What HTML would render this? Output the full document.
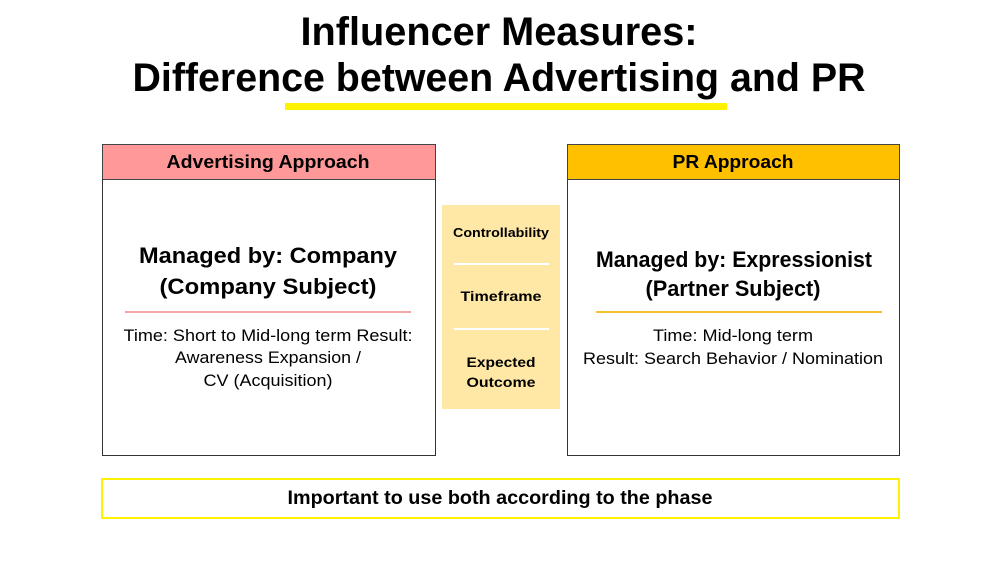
<!DOCTYPE html>
<html><head><meta charset="utf-8"><style>
html,body{margin:0;padding:0;background:#fff;}
svg{display:block;}
text{font-family:"Liberation Sans",sans-serif;fill:#000;}
.b{font-weight:bold;}
</style></head><body>
<svg width="1000" height="563" viewBox="0 0 1000 563" xmlns="http://www.w3.org/2000/svg">
<rect width="1000" height="563" fill="#fff"/>
<text class="b" x="499" y="45" font-size="40" text-anchor="middle" textLength="397" lengthAdjust="spacingAndGlyphs">Influencer Measures:</text>
<text class="b" x="499" y="91" font-size="40" text-anchor="middle" textLength="733" lengthAdjust="spacingAndGlyphs">Difference between Advertising and PR</text>
<rect x="285" y="103" width="442" height="7" fill="#FFF200"/>

<rect x="102.5" y="144.5" width="333" height="311" fill="#fff" stroke="#333" stroke-width="1"/>
<rect x="102.5" y="144.5" width="333" height="35" fill="#FF9999" stroke="#444" stroke-width="1"/>
<text class="b" x="268" y="168" font-size="18" text-anchor="middle" textLength="203" lengthAdjust="spacingAndGlyphs">Advertising Approach</text>
<text class="b" x="268" y="263" font-size="22" text-anchor="middle" textLength="258" lengthAdjust="spacingAndGlyphs">Managed by: Company</text>
<text class="b" x="268" y="294" font-size="22" text-anchor="middle" textLength="217" lengthAdjust="spacingAndGlyphs">(Company Subject)</text>
<rect x="125" y="311" width="286" height="2" fill="#F4A6A6"/>
<text x="268" y="341" font-size="17" text-anchor="middle" textLength="289" lengthAdjust="spacingAndGlyphs">Time: Short to Mid-long term Result:</text>
<text x="268" y="363" font-size="17" text-anchor="middle" textLength="186" lengthAdjust="spacingAndGlyphs">Awareness Expansion /</text>
<text x="268" y="386" font-size="17" text-anchor="middle" textLength="129" lengthAdjust="spacingAndGlyphs">CV (Acquisition)</text>

<rect x="442" y="205" width="118" height="204" fill="#FFE8A6"/>
<rect x="454" y="263" width="95" height="2" fill="#fff"/>
<rect x="454" y="328" width="95" height="2" fill="#fff"/>
<text class="b" x="501" y="237" font-size="13" text-anchor="middle" textLength="96" lengthAdjust="spacingAndGlyphs">Controllability</text>
<text class="b" x="501" y="301" font-size="14" text-anchor="middle" textLength="81" lengthAdjust="spacingAndGlyphs">Timeframe</text>
<text class="b" x="501" y="367" font-size="14" text-anchor="middle" textLength="69" lengthAdjust="spacingAndGlyphs">Expected</text>
<text class="b" x="501" y="387" font-size="14" text-anchor="middle" textLength="69" lengthAdjust="spacingAndGlyphs">Outcome</text>

<rect x="567.5" y="144.5" width="332" height="311" fill="#fff" stroke="#333" stroke-width="1"/>
<rect x="567.5" y="144.5" width="332" height="35" fill="#FFC000" stroke="#444" stroke-width="1"/>
<text class="b" x="733" y="168" font-size="18" text-anchor="middle" textLength="121" lengthAdjust="spacingAndGlyphs">PR Approach</text>
<text class="b" x="734" y="267" font-size="22" text-anchor="middle" textLength="276" lengthAdjust="spacingAndGlyphs">Managed by: Expressionist</text>
<text class="b" x="733" y="296" font-size="22" text-anchor="middle" textLength="175" lengthAdjust="spacingAndGlyphs">(Partner Subject)</text>
<rect x="596" y="311" width="286" height="2" fill="#F2C230"/>
<text x="733" y="341" font-size="17" text-anchor="middle" textLength="160" lengthAdjust="spacingAndGlyphs">Time: Mid-long term</text>
<text x="733" y="364" font-size="17" text-anchor="middle" textLength="300" lengthAdjust="spacingAndGlyphs">Result: Search Behavior / Nomination</text>

<rect x="102" y="479" width="797" height="39" fill="#fff" stroke="#FFF200" stroke-width="2"/>
<text class="b" x="500" y="504" font-size="19" text-anchor="middle" textLength="425" lengthAdjust="spacingAndGlyphs">Important to use both according to the phase</text>
</svg>
</body></html>
